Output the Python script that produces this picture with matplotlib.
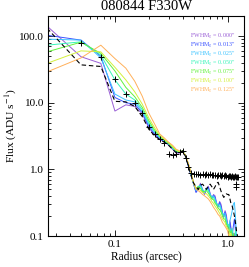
import numpy as np
import matplotlib
matplotlib.use("Agg")
import matplotlib.pyplot as plt
from matplotlib.ticker import FormatStrFormatter, LogLocator, NullFormatter

# radial sampling: HRC pixels of 0.025"
radius = np.arange(1, 53) * 0.025

fwhm_labels = ['0.000"', '0.013"', '0.025"', '0.050"', '0.075"', '0.100"', '0.125"']
colors = ["#9a5fd6", "#3a52ff", "#3cc4ff", "#36f5b8", "#62f23c", "#d4f03c", "#ffb05a"]

prof_000 = [141, 49, 39, 7.5, 9.3, 8.8, 6.8, 4.2, 3.3, 2.8, 2.6, 2.3, 2.0, 1.75, 1.75, 1.9, 1.55, 1.1, 0.8, 0.6,
            0.46, 0.5, 0.62, 0.5, 0.42, 0.52, 0.56, 0.44, 0.36, 0.42, 0.4, 0.31, 0.27, 0.33, 0.3, 0.23,
            0.19, 0.24, 0.21, 0.15, 0.12, 0.17, 0.13, 0.09, 0.07, 0.11, 0.08, 0.05, 0.04, 0.06, 0.04, 0.03]
prof_013 = [103, 87, 50, 12.0, 10.0, 9.5, 7.1, 4.4, 3.4, 2.9, 2.6, 2.35, 2.05, 1.8, 1.8, 1.9, 1.55, 1.1, 0.82, 0.6,
            0.45, 0.52, 0.6, 0.48, 0.43, 0.5, 0.54, 0.42, 0.37, 0.41, 0.38, 0.3, 0.28, 0.32, 0.28, 0.22,
            0.2, 0.23, 0.19, 0.14, 0.13, 0.16, 0.12, 0.1, 0.14, 0.18, 0.12, 0.07, 0.05, 0.04, 0.03, 0.03]
prof_025 = [90, 87, 47, 13.5, 11, 10.3, 7.4, 4.7, 3.6, 3.0, 2.7, 2.4, 2.1, 1.85, 1.8, 1.9, 1.55, 1.12, 0.82, 0.6,
            0.48, 0.55, 0.58, 0.5, 0.45, 0.52, 0.5, 0.43, 0.38, 0.4, 0.36, 0.31, 0.29, 0.3, 0.26, 0.22,
            0.21, 0.22, 0.18, 0.15, 0.14, 0.17, 0.2, 0.24, 0.3, 0.32, 0.2, 0.1, 0.06, 0.04, 0.03, 0.03]
prof_050 = [73, 82, 52, 22, 13.5, 11, 7.9, 5.0, 3.7, 3.05, 2.7, 2.4, 2.1, 1.85, 1.8, 1.9, 1.58, 1.15, 0.85, 0.62,
            0.5, 0.56, 0.55, 0.47, 0.46, 0.5, 0.48, 0.4, 0.37, 0.38, 0.33, 0.3, 0.28, 0.28, 0.24, 0.21,
            0.2, 0.2, 0.16, 0.14, 0.15, 0.13, 0.11, 0.13, 0.1, 0.08, 0.12, 0.07, 0.05, 0.04, 0.03, 0.03]
prof_075 = [58, 81, 55, 30, 17, 12.3, 8.5, 5.4, 3.9, 3.15, 2.75, 2.45, 2.15, 1.9, 1.82, 1.9, 1.6, 1.18, 0.86, 0.62,
            0.52, 0.55, 0.52, 0.46, 0.47, 0.48, 0.44, 0.4, 0.36, 0.35, 0.31, 0.29, 0.26, 0.25, 0.23, 0.2,
            0.18, 0.18, 0.15, 0.14, 0.13, 0.11, 0.12, 0.09, 0.11, 0.08, 0.06, 0.09, 0.05, 0.04, 0.03, 0.03]
prof_100 = [39, 60, 58, 34, 22, 14.6, 9.5, 5.9, 4.2, 3.25, 2.8, 2.5, 2.2, 1.95, 1.85, 1.88, 1.6, 1.2, 0.88, 0.63,
            0.52, 0.52, 0.48, 0.45, 0.44, 0.43, 0.4, 0.37, 0.33, 0.31, 0.28, 0.26, 0.24, 0.22, 0.2, 0.18,
            0.17, 0.16, 0.14, 0.13, 0.12, 0.1, 0.11, 0.08, 0.09, 0.07, 0.05, 0.06, 0.04, 0.03, 0.03, 0.02]
prof_125 = [29, 47, 73, 46, 33, 21, 12.5, 7.0, 4.8, 3.4, 2.95, 2.55, 2.3, 2.0, 1.9, 1.85, 1.6, 1.2, 0.88, 0.62,
            0.5, 0.48, 0.45, 0.42, 0.4, 0.38, 0.36, 0.33, 0.3, 0.27, 0.25, 0.23, 0.21, 0.2, 0.18, 0.16,
            0.15, 0.14, 0.13, 0.12, 0.1, 0.09, 0.1, 0.08, 0.07, 0.06, 0.05, 0.05, 0.04, 0.03, 0.03, 0.02]
models = [prof_000, prof_013, prof_025, prof_050, prof_075, prof_100, prof_125]

psf = [131, 37, 35, 10.5, 10.3, 8.8, 6.2, 4.0, 3.2, 2.8, 2.55, 2.3, 2.0, 1.78, 1.78, 1.9, 1.55, 1.1, 0.8, 0.62,
       0.55, 0.5, 0.58, 0.6, 0.55, 0.5, 0.56, 0.6, 0.55, 0.5, 0.55, 0.62, 0.64, 0.55, 0.47, 0.42,
       0.38, 0.4, 0.43, 0.42, 0.42, 0.36, 0.3, 0.28, 0.24, 0.2, 0.16, 0.12, 0.1, 0.08, 0.05, 0.04]

# observed profile, starts at the 2nd pixel
obs_flux = [79, 49, 23, 13.5, 10, 7.0, 4.3, 3.4, 2.9, 2.5, 1.7, 1.65, 1.7, 1.85, 1.9, 1.5, 1.1, 0.88, 0.85,
            0.84, 0.86, 0.83, 0.85, 0.82, 0.84, 0.83, 0.85, 0.81, 0.83, 0.82, 0.8, 0.83, 0.81, 0.8,
            0.82, 0.79, 0.81, 0.8, 0.78, 0.8, 0.79, 0.77, 0.8, 0.78, 0.77, 0.79, 0.76, 0.78, 0.77]
extra_r = [1.2, 1.2]
extra_flux = [0.6, 0.54]

plt.rcParams["font.family"] = "Liberation Serif"
plt.rcParams["mathtext.fontset"] = "stix"

fig = plt.figure(figsize=(2.49, 2.67), dpi=100)
ax = fig.add_axes([0.193, 0.116, 0.787, 0.824])

for prof, c in zip(models, colors):
    ax.plot(radius, prof, color=c, lw=0.7)
ax.plot(radius, psf, color="black", lw=0.8, ls=(0, (4, 2.5)))
ax.plot(radius[1:1 + len(obs_flux)], obs_flux, ls="none", marker="+", ms=4, mew=0.7, color="black")
ax.plot(extra_r, extra_flux, ls="none", marker="+", ms=4, mew=0.7, color="black")

ax.set_xscale("log")
ax.set_yscale("log")
ax.set_xlim(0.0255, 1.4)
ax.set_ylim(0.1, 200)
ax.xaxis.set_major_locator(LogLocator(base=10))
ax.yaxis.set_major_locator(LogLocator(base=10))
ax.xaxis.set_major_formatter(FormatStrFormatter("%.1f"))
ax.yaxis.set_major_formatter(FormatStrFormatter("%.1f"))
ax.xaxis.set_minor_formatter(NullFormatter())
ax.yaxis.set_minor_formatter(NullFormatter())
ax.tick_params(which="both", direction="in", top=True, right=True, labelsize=8, width=0.6)
ax.tick_params(which="major", length=4, pad=3)
ax.tick_params(which="minor", length=2)
for s in ax.spines.values():
    s.set_linewidth(0.8)

for k, (lab, c) in enumerate(zip(fwhm_labels, colors)):
    ax.text(0.725, 0.905 - k * 0.041, "FWHM$_{g}$ = " + lab, transform=ax.transAxes,
            fontsize=4.3, color=c, va="center")

ax.set_title("080844 F330W", fontsize=10.5, pad=4)
ax.set_xlabel("Radius (arcsec)", fontsize=8.3, labelpad=1)
ax.set_ylabel("Flux (ADU s$^{-1}$)", fontsize=8.2, labelpad=0)

fig.savefig("out.png", dpi=100)
